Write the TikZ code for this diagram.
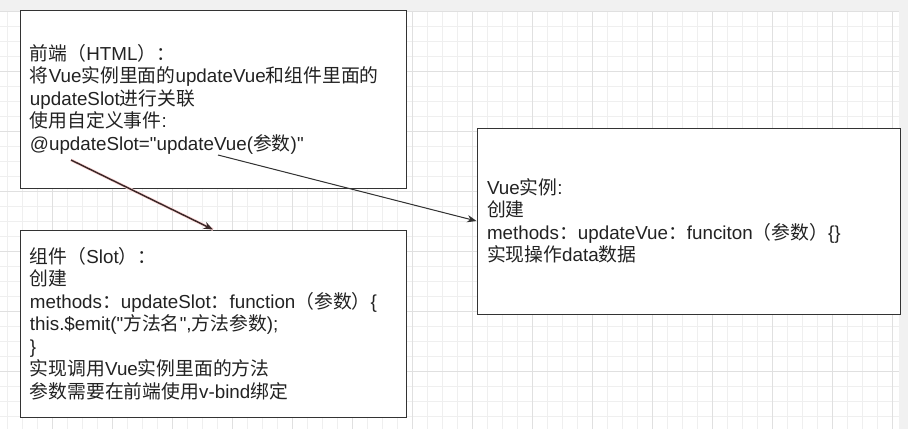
\documentclass[tikz,border=0pt]{standalone}
\usepackage{fontspec}
\setmainfont{Liberation Sans}
\newfontfamily\zhfont{Noto Sans CJK SC}
\newcommand{\zh}[1]{{\zhfont #1}}
\usepackage{tikz}
\usetikzlibrary{arrows.meta}
\definecolor{gridmin}{HTML}{EFEFEF}
\definecolor{gridmaj}{HTML}{E0E0E0}
\definecolor{canvasbg}{HTML}{F1F1F1}
\definecolor{boxline}{HTML}{333333}
\definecolor{txtcol}{HTML}{222222}
\definecolor{arrowdark}{HTML}{3A2828}

\begin{document}
\begin{tikzpicture}
    % 坐标单位: 1 = 1px
    [x=0.75pt,y=-0.75pt,
    TextBox/.style={rectangle,draw=boxline,fill=white,line width=0.75pt,text=txtcol,
        align=left,inner xsep=7.5pt,inner ysep=0pt,font=\fontsize{14.1}{16.9}\selectfont},
    MinorLine/.style={draw=gridmin,line width=0.75pt},
    MajorLine/.style={draw=gridmaj,line width=0.75pt},
    LinkArrow/.style={-{Stealth[length=7pt,width=5.5pt]},draw=boxline,fill=boxline,line width=0.75pt},
    HotArrow/.style={-{Stealth[length=7pt,width=5.5pt]},draw=arrowdark,fill=arrowdark,line width=1.1pt,
        preaction={draw=red!15!white,line width=2.2pt,-}}]

    % 画布背景
    \useasboundingbox (0,0) rectangle (908,429);
    \fill[white] (0,0) rectangle (908,429);

    % 网格
    \foreach \x in {7,22,...,899}
        \draw[MinorLine] (\x,11) -- (\x,429);
    \foreach \y in {26,41,...,429}
        \draw[MinorLine] (0,\y) -- (899,\y);
    \foreach \x in {52,112,...,899}
        \draw[MajorLine] (\x,11) -- (\x,429);
    \foreach \y in {11,71,...,429}
        \draw[MajorLine] (0,\y) -- (899,\y);

    % 上边和右边的灰色条
    \fill[canvasbg] (0,0) rectangle (908,10.5);
    \fill[canvasbg] (899,0) rectangle (908,429);

    % 前端
    \node[TextBox,text width=274.5pt,minimum height=133.5pt] (htmlbox) at (213,99)
        {\zh{前端（}HTML\zh{）：}\\
         \zh{将}Vue\zh{实例里面的}updateVue\zh{和组件里面的}\\
         updateSlot\zh{进行关联}\\
         \zh{使用自定义事件}:\\
         @updateSlot=\textquotedbl updateVue(\zh{参数})\textquotedbl};

    % 组件
    \node[TextBox,text width=274.5pt,minimum height=140.25pt] (slotbox) at (213,323.5)
        {\zh{组件（}Slot\zh{）：}\\
         \zh{创建}\\
         methods\zh{：}updateSlot\zh{：}function\zh{（参数）}\{\\
         this.\$emit(\textquotedbl\zh{方法名}\textquotedbl,\zh{方法参数});\\
         \}\\
         \zh{实现调用}Vue\zh{实例里面的方法}\\
         \zh{参数需要在前端使用}v-bind\zh{绑定}};

    % Vue实例
    \node[TextBox,text width=302.25pt,minimum height=139.5pt] (vuebox) at (688.5,221)
        {Vue\zh{实例}:\\
         \zh{创建}\\
         methods\zh{：}updateVue\zh{：}funciton\zh{（参数）}\{\}\\
         \zh{实现操作}data\zh{数据}};

    % 连线
    \coordinate (slotstart) at (71,160);
    \coordinate (vuestart) at (218,155);
    \draw[HotArrow] (slotstart) -- (slotbox.north);
    \draw[LinkArrow] (vuestart) -- (vuebox.west);
\end{tikzpicture}
\end{document}
